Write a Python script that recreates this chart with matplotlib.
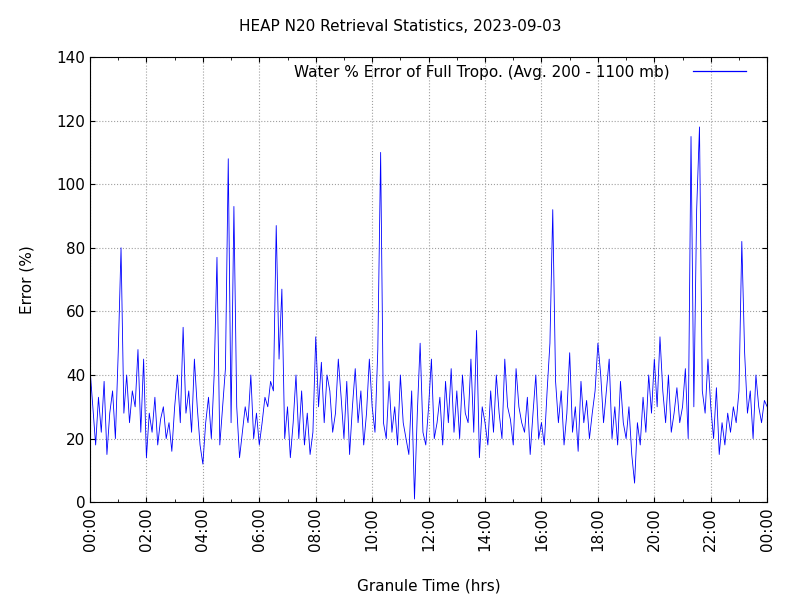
import matplotlib
matplotlib.use("Agg")
import matplotlib.pyplot as plt
import numpy as np

hours_start = 0.0
hours_step = 0.1
error_pct = [
 42,30,18,33,22,38,15,28,35,20,
 47,80,28,40,25,35,30,48,22,45,
 14,28,22,33,18,26,30,20,25,16,
 30,40,25,55,28,35,22,45,30,18,
 12,25,33,20,40,77,18,30,42,108,
 25,93,30,14,22,30,25,40,20,28,
 18,25,33,30,38,35,87,45,67,20,
 30,14,25,40,20,35,18,28,15,22,
 52,30,44,25,40,35,22,28,45,33,
 20,38,15,30,42,25,35,18,28,45,
 30,22,48,110,25,20,38,22,30,18,
 40,25,20,15,35,1,28,50,22,18,
 30,45,20,25,33,18,38,25,42,22,
 35,20,40,28,25,45,22,54,14,30,
 25,18,35,22,40,28,20,45,30,26,
 18,42,30,25,22,33,15,28,40,20,
 25,18,35,50,92,38,25,35,18,28,
 47,22,30,16,38,25,32,20,28,35,
 50,40,25,35,45,20,30,18,38,25,
 20,30,15,6,25,18,33,22,40,28,
 45,30,52,35,25,40,22,28,36,25,
 30,42,20,115,30,92,118,35,28,45,
 30,20,36,15,25,18,28,22,30,25,
 35,82,47,28,35,20,40,30,25,32,
 30]
tick_labels = ["00:00","02:00","04:00","06:00","08:00","10:00","12:00",
               "14:00","16:00","18:00","20:00","22:00","00:00"]

t = hours_start + hours_step*np.arange(len(error_pct))

fig = plt.figure(figsize=(8,6), dpi=100)
ax = fig.add_axes([0.1125, 0.163, 0.8465, 0.742])
ax.plot(t, error_pct, color="#0000ff", lw=0.6,
        label="Water % Error of Full Tropo. (Avg. 200 - 1100 mb)")
ax.set_xlim(0, 24)
ax.set_ylim(0, 140)
ax.set_xticks(np.arange(0, 25, 2))
ax.set_xticklabels(tick_labels, rotation=90, fontsize=11)
ax.set_xticks(np.arange(1, 24, 2), minor=True)
ax.set_yticks(np.arange(0, 141, 20))
ax.tick_params(axis='y', labelsize=11)
ax.tick_params(direction='in', top=True, right=True, which='both')
ax.grid(True, linestyle=':', color='#a0a0a0', linewidth=0.8)
ax.set_xlabel("Granule Time (hrs)", fontsize=11, labelpad=20)
ax.set_ylabel("Error (%)", fontsize=11, labelpad=16)
fig.suptitle("HEAP N20 Retrieval Statistics, 2023-09-03", fontsize=11, y=0.968)
leg = ax.legend(loc="upper right", frameon=False, fontsize=11,
                handlelength=3.5, handletextpad=1.5, markerfirst=False,
                borderaxespad=0.1, bbox_to_anchor=(0.98, 1.0))
for ln in leg.get_lines():
    ln.set_linewidth(0.9)
fig.savefig("out.png")
